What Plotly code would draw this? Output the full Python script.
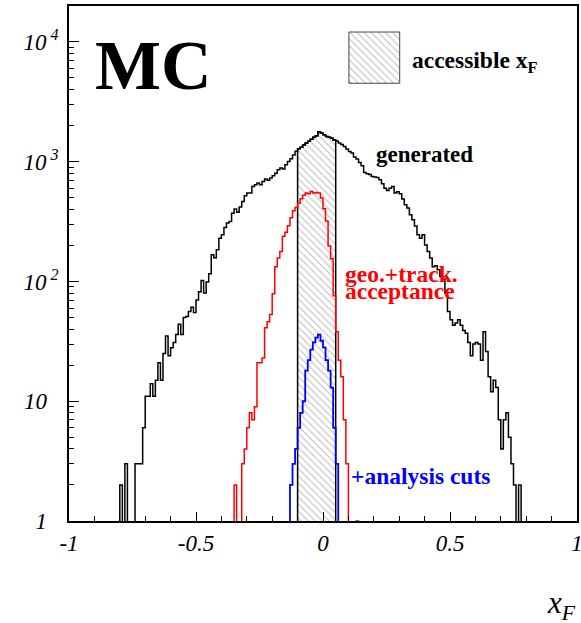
import numpy as np
import plotly.graph_objects as go

BIN_W = 0.01

# "generated" histogram, bins of width 0.01, first bin lower edge -0.80
gen_start = -0.80
generated = [2, 0, 3, 0, 0, 0, 3, 3, 3, 6,
             11, 11, 14, 11, 15, 21, 15, 25, 35, 24,
             28, 31, 36, 44, 36, 50, 51, 56, 61, 55,
             70, 82, 102, 80, 99, 116, 167, 158, 184, 230,
             245, 282, 307, 316, 372, 402, 378, 418, 465, 519,
             547, 547, 622, 642, 663, 642, 684, 716, 700, 730,
             763, 800, 856, 884, 870, 942, 1004, 1060, 1140, 1220,
             1280, 1320, 1380, 1430, 1480, 1540, 1600, 1650, 1780, 1733,
             1680, 1623, 1600, 1570, 1520, 1490, 1430, 1390, 1340, 1274,
             1217, 1180, 1092, 1051, 985, 925, 813, 794, 781, 753,
             745, 738, 707, 653, 601, 575, 601, 621, 547, 560,
             540, 487, 437, 410, 360, 327, 291, 245, 230, 245,
             202, 178, 157, 133, 135, 125, 110, 105, 80, 56,
             48, 43, 45, 48, 43, 39, 37, 31, 24, 30,
             31, 30, 22, 38, 26, 16, 12, 15, 13, 7,
             4, 7, 8, 5, 3, 2, 0, 2]

# "geo.+track. acceptance" histogram, first bin lower edge -0.35
acc_start = -0.35
acceptance = [2, 0, 0, 3, 4, 6, 8, 7, 9, 21,
              21, 23, 41, 46, 53, 79, 133, 157, 178, 238,
              257, 292, 340, 390, 415, 450, 490, 525, 547, 540,
              564, 547, 553, 547, 497, 405, 320, 198, 155, 76,
              38, 22, 16, 7, 3, 0, 0, 0, 1]

# "+analysis cuts" histogram, first bin lower edge -0.13
cut_start = -0.13
cuts = [2, 3, 4, 6, 8, 10, 18, 22, 27, 31,
        34, 36, 32, 28, 22, 18, 13, 6, 3]

# accessible x_F range
acc_range = (-0.10, 0.05)

x_ticks = [-1, -0.5, 0, 0.5, 1]
x_ticktext = ["<i>-1</i>", "<i>-0.5</i>", "<i>0</i>", "<i>0.5</i>", "<i>1</i>"]
y_ticks = [1, 10, 100, 1000, 10000]
y_ticktext = ["<i>1</i>\u00a0\u00a0", "<i>10</i>\u00a0\u00a0",
              "<i>10<sup> 2</sup></i>", "<i>10<sup> 3</sup></i>", "<i>10<sup> 4</sup></i>"]

FLOOR = 0.05  # zero bins drawn below the axis minimum (clipped)


def step_xy(start, vals):
    v = np.asarray(vals, dtype=float)
    v = np.where(v > 0, v, FLOOR)
    n = len(v)
    edges = np.round(start + BIN_W * np.arange(-1, n + 2), 6)
    y = np.concatenate([[FLOOR], v, [FLOOR], [FLOOR]])
    return edges, y


FONT = "Liberation Serif"
fig = go.Figure()

# hatched band: generated histogram restricted to accessible range
g = np.asarray(generated, dtype=float)
gx = np.round(gen_start + BIN_W * np.arange(len(g)), 6)
mask = (gx >= acc_range[0] - 1e-9) & (gx < acc_range[1] - 1e-9)
hx = np.concatenate([[acc_range[0]], gx[mask], [acc_range[1]], [acc_range[1]]])
hy = np.concatenate([[1.0], g[mask], [g[mask][-1]], [1.0]])
fig.add_trace(go.Scatter(
    x=hx, y=hy, mode="lines", line=dict(color="black", width=1.5, shape="hv"),
    fill="toself", fillcolor="rgba(0,0,0,0)",
    fillpattern=dict(shape="\\", fgcolor="#6e6e6e", bgcolor="white", size=5, solidity=0.18),
    hoverinfo="skip", showlegend=False))

for start, vals, col, w in [(gen_start, generated, "black", 1.5),
                            (acc_start, acceptance, "#ff0000", 1.5),
                            (cut_start, cuts, "#0000ff", 1.8)]:
    x, y = step_xy(start, vals)
    fig.add_trace(go.Scatter(x=x, y=y, mode="lines",
                             line=dict(color=col, width=w, shape="hv"),
                             hoverinfo="skip", showlegend=False))

# legend swatch (hatched square) on an overlay axis in fractional units
sq = dict(x0=0.551, x1=0.651, y0=0.850, y1=0.9495)
fig.add_trace(go.Scatter(
    x=[sq["x0"], sq["x1"], sq["x1"], sq["x0"], sq["x0"]],
    y=[sq["y0"], sq["y0"], sq["y1"], sq["y1"], sq["y0"]],
    xaxis="x2", yaxis="y2", mode="lines", line=dict(color="#444444", width=1),
    fill="toself", fillcolor="rgba(0,0,0,0)",
    fillpattern=dict(shape="\\", fgcolor="#6e6e6e", bgcolor="white", size=5, solidity=0.18),
    hoverinfo="skip", showlegend=False))

fig.update_layout(
    width=581, height=623,
    margin=dict(l=69, r=4, t=6, b=102),
    paper_bgcolor="white", plot_bgcolor="white",
    showlegend=False,
    xaxis=dict(range=[-1, 1], showgrid=False, zeroline=False, automargin=False,
               showline=True, linecolor="black", linewidth=1.6, mirror=True,
               ticks="inside", ticklen=9, tickwidth=1, tickcolor="black",
               tickvals=x_ticks, ticktext=x_ticktext, ticklabeloverflow="allow",
               tickfont=dict(family=FONT, size=23, color="black"),
               ticklabelstandoff=1,
               minor=dict(ticks="inside", ticklen=5, tickwidth=1, tickcolor="black",
                          dtick=0.1, showgrid=False)),
    yaxis=dict(type="log", range=[0, 4.3], showgrid=False, zeroline=False, automargin=False,
               showline=True, linecolor="black", linewidth=1.6, mirror=True,
               ticks="inside", ticklen=10, tickwidth=1, tickcolor="black",
               tickvals=y_ticks, ticktext=y_ticktext, ticklabeloverflow="allow",
               tickfont=dict(family=FONT, size=23, color="black"),
               ticklabelstandoff=4,
               minor=dict(ticks="inside", ticklen=5, tickwidth=1, tickcolor="black",
                          dtick="D1", showgrid=False)),
    xaxis2=dict(overlaying="x", range=[0, 1], visible=False),
    yaxis2=dict(overlaying="y", range=[0, 1], visible=False),
)


def px2paper(px, py):
    return (px - 69) / 508.0, (521 - py) / 515.0


def add_text(text, px, py, size, color="black", xanchor="left", bold=True, italic=False):
    x, y = px2paper(px, py)
    fig.add_annotation(x=x, y=y, xref="paper", yref="paper", text=text,
                       showarrow=False, xanchor=xanchor, yanchor="middle",
                       font=dict(family=FONT, size=size, color=color,
                                 weight="bold" if bold else "normal",
                                 style="italic" if italic else "normal"))


add_text("MC", 153, 66, 70, xanchor="center")
add_text("accessible x<sub>F</sub>", 410, 62, 23.5)
add_text("generated", 424, 154, 23, xanchor="center")
add_text("geo.+track.", 343, 274, 23.5, color="#ff0000")
add_text("acceptance", 343, 291, 23.5, color="#ff0000")
add_text("+analysis cuts", 349, 476, 23.5, color="#0000ff")
add_text("<i>x<sub>F</sub></i>", 578, 605, 31, xanchor="right", bold=False)

fig.write_html("out.html", config={"displayModeBar": False},
               post_script="document.body.style.margin='0';")
